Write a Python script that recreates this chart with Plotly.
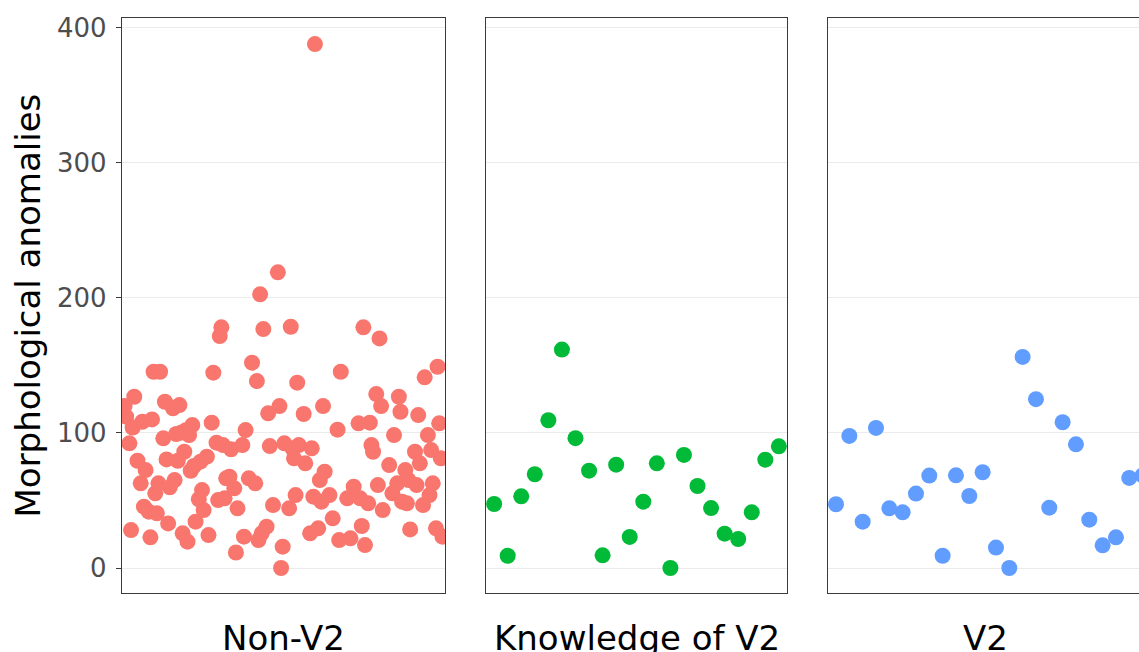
import plotly.graph_objects as go

# ---------------- data ----------------
groups = ["Non-V2", "Knowledge of V2", "V2"]
colors = ["#F8766D", "#00BA38", "#619CFF"]

nonv2_subject = [2, 3, 5, 6, 7, 8, 10, 12, 13, 14, 15, 17, 18, 19, 20, 21, 22, 23, 24, 26,
                 27, 28, 29, 30, 32, 33, 34, 35, 36, 37, 38, 39, 40, 41, 42, 43, 44, 45, 46, 48,
                 49, 50, 51, 53, 54, 56, 57, 59, 60, 61, 62, 63, 64, 65, 67, 68, 70, 71, 72, 75,
                 76, 77, 79, 81, 83, 84, 85, 86, 87, 88, 90, 91, 92, 94, 97, 98, 99, 100, 101, 104,
                 105, 106, 107, 108, 109, 110, 113, 114, 117, 118, 119, 120, 122, 123, 124, 125, 126, 129, 131, 134,
                 135, 136, 140, 142, 144, 147, 148, 149, 150, 151, 153, 154, 155, 156, 158, 159, 160, 161, 162, 166,
                 168, 169, 171, 172, 173, 174, 176, 177, 178, 179, 182, 183, 184, 185, 187, 188, 190, 191, 192, 193,
                 195, 196, 197, 198, 199]
nonv2_anomalies = [120, 112, 92.3, 28.1, 104, 126.8, 79.4, 62.7, 108.3, 45.4, 72.5, 41.7, 22.7, 110, 145.3, 55.3, 40.5, 62.7, 145.3, 96,
                   123.1, 80.4, 33, 59.7, 118.2, 65.1, 99.2, 79.4, 120.6, 100.2, 25.7, 86.1, 102, 19.5, 98.4, 72, 105.8, 75.5, 34.3, 50.9,
                   78.7, 57.7, 42.9, 82.4, 24.4, 107.6, 144.6, 92.8, 50.3, 171.7, 178.2, 91, 51.6, 66.4, 67.6, 87.9, 59, 11.5, 44.2, 91,
                   23.2, 102.1, 66.4, 152, 62.7, 138.4, 20.7, 202.6, 25.7, 176.9, 30.6, 114.5, 90.3, 46.6, 218.9, 119.9, 0, 15.8, 92.3, 44.2,
                   178.6, 88.6, 81.2, 54, 137.2, 91, 114, 77.5, 25.7, 88.6, 52.8, 387.9, 29.4, 65.1, 49.1, 119.9, 71.3, 54, 36.8, 102.4,
                   20.7, 145.3, 51.6, 22, 60.2, 107.1, 51.6, 31.1, 178.2, 17, 47.9, 107.6, 91, 86.1, 128.8, 61.4, 170, 119.9, 42.9, 76.2,
                   55.3, 98.4, 62.7, 126.8, 115.7, 49.1, 72.5, 47.9, 65.1, 28.6, 86.1, 61.4, 113.2, 77.5, 46.6, 141.2, 98.4, 54, 87.3, 62.7,
                   29.4, 149, 107.1, 81.2, 23.2]

knowledge_subject = list(range(1, 23))
knowledge_anomalies = [47.4, 9.1, 53.1, 69.4, 109.4, 161.7, 96.1, 72.1, 9.4, 76.5, 23, 49.1,
                       77.5, 0, 83.7, 60.7, 44.4, 25.4, 21.5, 41.2, 80.2, 90.1]

v2_subject = list(range(1, 25))
v2_anomalies = [47.2, 97.8, 34.3, 103.7, 44.2, 41.2, 55.1, 68.4, 9.1, 68.6, 53.3, 70.9,
                15.1, 0, 156.3, 125, 44.7, 107.9, 91.6, 35.8, 16.8, 22.7, 66.7, 68.6]

y_ticks = [0, 100, 200, 300, 400]
y_title = "Morphological anomalies"

# ---------------- figure ----------------
W, H = 1139, 652
def px_x(p):
    return p / W
def px_y(p):
    return (H - p) / H

xdom = [[px_x(122), px_x(445)], [px_x(486), px_x(787)], [px_x(828), 1.0]]
ydom = [px_y(593), px_y(18)]
yrange = [-18.5, 407.2]
xranges = [[0.4, 200.6], [0.4, 22.6], [0.4, 23.73]]

fig = go.Figure()
series = [(nonv2_subject, nonv2_anomalies), (knowledge_subject, knowledge_anomalies),
          (v2_subject, v2_anomalies)]
for i, (xs, ys) in enumerate(series):
    fig.add_trace(go.Scatter(
        x=xs, y=ys, mode="markers", name=groups[i],
        marker=dict(color=colors[i], size=16, line=dict(width=0)),
        xaxis="x" if i == 0 else f"x{i+1}",
        yaxis="y" if i == 0 else f"y{i+1}",
        showlegend=False, hoverinfo="x+y",
    ))

line_color = "#3a3a3a"
layout = dict(
    width=W, height=H,
    margin=dict(l=0, r=0, t=0, b=0, autoexpand=False),
    paper_bgcolor="white", plot_bgcolor="white",
    font=dict(family="DejaVu Sans, Verdana, sans-serif"),
)
for i in range(3):
    sfx = "" if i == 0 else str(i + 1)
    layout[f"xaxis{sfx}"] = dict(
        domain=xdom[i], range=xranges[i], anchor=f"y{sfx}", automargin=False,
        showgrid=False, zeroline=False, showticklabels=False, ticks="",
        showline=True, linecolor=line_color, linewidth=1.3, mirror=True,
    )
    layout[f"yaxis{sfx}"] = dict(
        domain=ydom, range=yrange, anchor=f"x{sfx}", automargin=False,
        showgrid=True, gridcolor="#EBEBEB", gridwidth=1, zeroline=False,
        tickvals=y_ticks, showticklabels=(i == 0),
        ticks="outside" if i == 0 else "", ticklen=5, tickwidth=1.3, tickcolor=line_color,
        tickfont=dict(size=26, color="#4D4D4D"),
        ticklabelstandoff=4,
        showline=True, linecolor=line_color, linewidth=1.3,
        mirror=(i < 2),
    )
fig.update_layout(**layout)

annots = [dict(text=y_title, x=px_x(27), y=px_y(305.5), xref="paper", yref="paper",
               textangle=-90, showarrow=False, xanchor="center", yanchor="middle",
               font=dict(size=34, color="black"))]
label_x = [283.5, 636.5, 985]
for lbl, cx in zip(groups, label_x):
    annots.append(dict(text=lbl, x=px_x(cx), y=px_y(638), xref="paper", yref="paper",
                       showarrow=False, xanchor="center", yanchor="middle",
                       font=dict(size=34, color="black")))
fig.update_layout(annotations=annots)

fig.write_html("out.html")
